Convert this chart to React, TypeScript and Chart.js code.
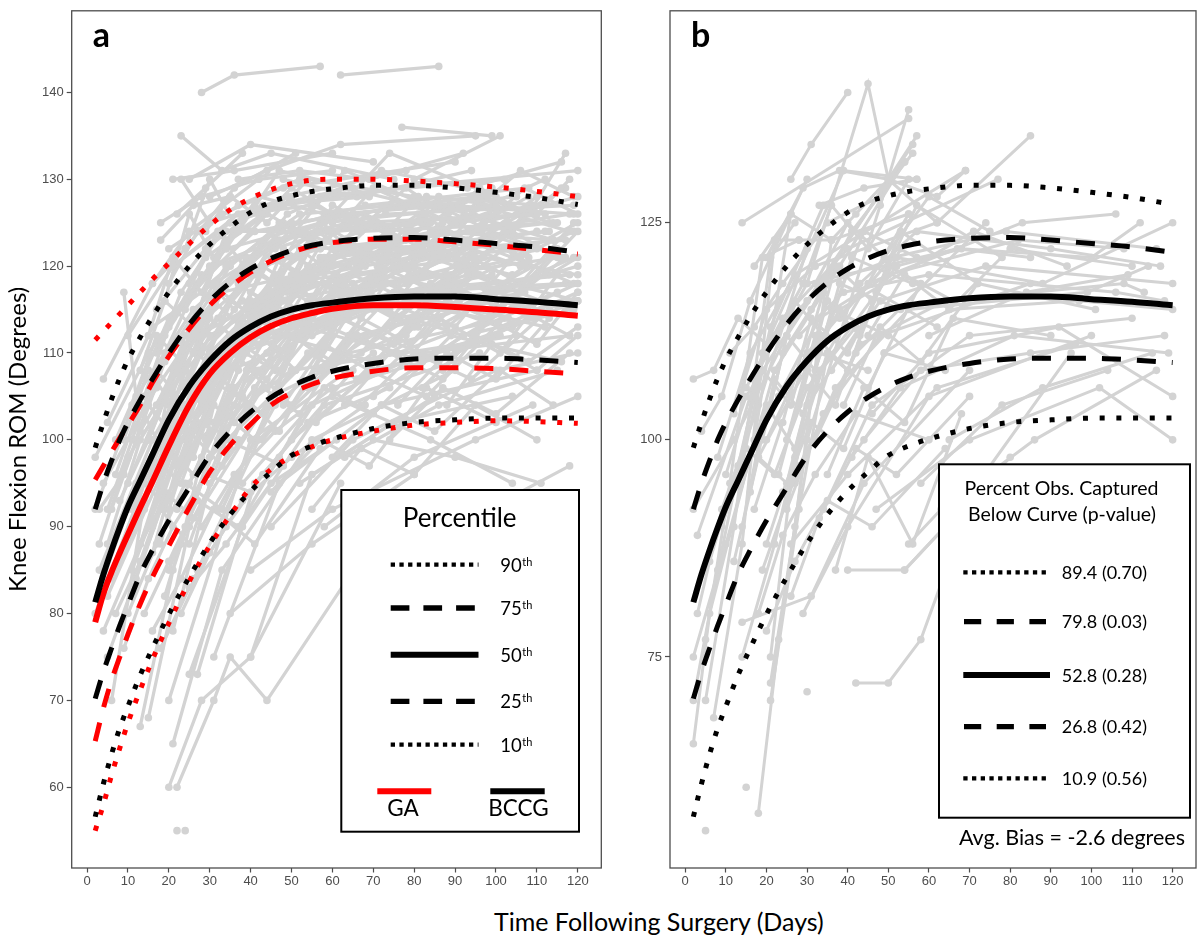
import { useEffect, useRef } from 'react';
import { Chart, registerables } from 'chart.js';

Chart.register(...registerables);

type Pt = [number, number];

// ---- percentile curves ----
const curveDays = [2, 4, 6, 8, 10, 13, 16, 20, 25, 30, 35, 40, 45, 50, 55, 60, 70, 80, 90, 100, 110, 120];

const bccg90 = [99.1, 102.0, 104.7, 107.1, 109.2, 111.8, 114.2, 117.0, 120.0, 122.5, 124.5, 126.2, 127.4, 128.1, 128.6, 128.9, 129.3, 129.3, 129.0, 128.5, 127.9, 127.1];
const bccg75 = [92.0, 95.0, 97.6, 100.0, 102.0, 104.6, 107.0, 110.0, 113.3, 116.0, 118.1, 119.7, 120.9, 121.8, 122.4, 122.8, 123.2, 123.3, 123.0, 122.6, 122.2, 121.6];
const bccg50 = [81.3, 84.5, 87.3, 89.9, 92.3, 95.3, 98.3, 102.3, 106.2, 109.1, 111.4, 113.0, 114.2, 115.0, 115.5, 115.8, 116.3, 116.5, 116.5, 116.2, 115.9, 115.5];
const bccg25 = [70.2, 73.3, 76.0, 78.6, 81.0, 84.5, 87.3, 90.7, 94.5, 98.2, 101.0, 103.2, 104.9, 106.2, 107.2, 107.9, 108.8, 109.3, 109.4, 109.4, 109.2, 108.9];
const bccg10 = [56.6, 60.4, 63.8, 66.8, 69.3, 72.9, 76.0, 79.9, 84.2, 88.1, 91.4, 94.1, 96.3, 98.2, 99.3, 100.1, 101.3, 102.0, 102.3, 102.5, 102.5, 102.5];

const ga90 = [111.5, 112.5, 113.5, 114.5, 115.5, 117.0, 118.5, 120.3, 122.6, 124.7, 126.5, 127.8, 128.8, 129.5, 129.9, 130.0, 130.0, 129.8, 129.5, 129.1, 128.6, 128.0];
const ga75 = [95.4, 97.0, 98.6, 100.2, 101.7, 104.0, 106.6, 109.6, 112.8, 115.5, 117.6, 119.3, 120.6, 121.6, 122.3, 122.7, 123.1, 123.1, 122.8, 122.4, 121.9, 121.4];
const ga50 = [79.0, 82.3, 84.8, 87.0, 89.1, 92.2, 95.2, 99.3, 104.0, 107.6, 110.0, 111.8, 113.1, 114.0, 114.6, 115.1, 115.5, 115.5, 115.3, 115.0, 114.7, 114.3];
const ga25 = [65.3, 69.1, 72.3, 75.0, 77.6, 81.1, 84.2, 87.8, 92.2, 96.3, 99.4, 101.8, 104.0, 105.4, 106.4, 107.1, 107.9, 108.3, 108.3, 108.2, 107.9, 107.6];
const ga10 = [55.0, 58.0, 61.4, 64.5, 67.4, 71.2, 74.7, 78.9, 83.7, 87.8, 91.3, 94.5, 96.6, 98.1, 99.2, 100.0, 101.0, 101.7, 102.0, 102.2, 102.1, 101.9];

// ---- axes ----
const xTicks = [0, 10, 20, 30, 40, 50, 60, 70, 80, 90, 100, 110, 120];
const yTicksA = [60, 70, 80, 90, 100, 110, 120, 130, 140];
const yTicksB = [75, 100, 125];

// ---- legend texts ----
const percentileRows = ['90', '75', '50', '25', '10'];
const captureRows = ['89.4 (0.70)', '79.8 (0.03)', '52.8 (0.28)', '26.8 (0.42)', '10.9 (0.56)'];

// ---- patient trajectories, panel a (development set) ----
const trajA: Pt[][] = [
  [[2, 80], [14, 95], [28, 110], [45, 118], [90, 122]],
  [[3, 85], [16, 100], [30, 112], [60, 120], [110, 124]],
  [[2, 92], [12, 105], [26, 115], [50, 125], [95, 128]],
  [[4, 107], [16, 118], [25, 124], [42, 130]],
  [[5, 75], [18, 92], [35, 108], [70, 115]],
  [[3, 88], [10, 98], [24, 108], [40, 116], [85, 121]],
  [[6, 70], [14, 93], [35, 112], [80, 120]],
  [[9, 117], [13, 101], [27, 112], [55, 119]],
  [[2, 98], [15, 110], [30, 120], [58, 125], [100, 127]],
  [[7, 100], [20, 114], [34, 122], [65, 126]],
  [[5, 82], [20, 98], [38, 110], [75, 117], [118, 119]],
  [[8, 90], [22, 104], [40, 114], [90, 118]],
  [[4, 95], [17, 106], [33, 117], [70, 121]],
  [[10, 112], [21, 120], [37, 126], [64, 129]],
  [[4, 78], [13, 88], [27, 100], [50, 108], [105, 112]],
  [[6, 92], [19, 109], [36, 119], [57, 122], [114, 125]],
  [[11, 85], [23, 100], [42, 112], [80, 117]],
  [[5, 102], [16, 113], [31, 118], [48, 123]],
  [[12, 95], [26, 107], [44, 116], [88, 119]],
  [[13, 88], [22, 100], [36, 110], [62, 115], [120, 118]],
  [[20, 110], [34, 120], [52, 126], [98, 128]],
  [[21, 130], [36, 131], [60, 133]],
  [[23, 130], [30, 125], [50, 128]],
  [[25, 130], [40, 134], [70, 132]],
  [[23, 135], [33, 131], [45, 133], [75, 130]],
  [[15, 100], [25, 112], [39, 121], [66, 125], [110, 126]],
  [[16, 90], [27, 105], [45, 117], [78, 120]],
  [[18, 95], [30, 110], [47, 118], [95, 121]],
  [[19, 105], [31, 116], [46, 123], [73, 126], [119, 127]],
  [[20, 85], [32, 100], [50, 112], [84, 118]],
  [[21, 120], [35, 125], [55, 128], [102, 130]],
  [[22, 92], [36, 106], [54, 115], [99, 119]],
  [[17, 115], [29, 122], [43, 127], [69, 128]],
  [[24, 100], [37, 112], [53, 119], [88, 123]],
  [[20, 60], [28, 70], [40, 75], [62, 95]],
  [[22, 60], [31, 70], [35, 75], [44, 70], [75, 92]],
  [[22, 55]],
  [[24, 55]],
  [[21, 65], [33, 85], [55, 100], [90, 108]],
  [[13, 67], [21, 85], [30, 98], [60, 112]],
  [[15, 68], [25, 90], [45, 105], [80, 113]],
  [[20, 70], [40, 100], [70, 110]],
  [[25, 73], [38, 90], [58, 104], [96, 110]],
  [[27, 73], [41, 95], [65, 108]],
  [[31, 75], [47, 95], [72, 104], [110, 108]],
  [[40, 75], [55, 96], [85, 105]],
  [[21, 78], [30, 95], [50, 108]],
  [[13, 88], [24, 104], [42, 115], [68, 120]],
  [[5, 88], [13, 100], [26, 110]],
  [[18, 125], [28, 128], [42, 130], [60, 131]],
  [[20, 122], [33, 126], [48, 129], [90, 132]],
  [[16, 118], [24, 122], [36, 129], [51, 133]],
  [[19, 112], [27, 118], [41, 124], [63, 126], [105, 128]],
  [[23, 108], [38, 118], [56, 124], [100, 126]],
  [[24, 115], [34, 123], [49, 128], [78, 131]],
  [[26, 105], [40, 115], [60, 121], [112, 124]],
  [[25, 95], [39, 108], [57, 116], [91, 120]],
  [[27, 85], [42, 100], [64, 110], [103, 114]],
  [[28, 112], [43, 120], [67, 124], [115, 125]],
  [[30, 118], [45, 124], [68, 127], [108, 129]],
  [[29, 100], [44, 112], [70, 118], [116, 121]],
  [[32, 92], [46, 104], [66, 112], [100, 116]],
  [[30, 128], [44, 131], [62, 134], [95, 135]],
  [[35, 125], [48, 127], [75, 129], [120, 131]],
  [[33, 110], [50, 119], [74, 122], [113, 124]],
  [[36, 102], [52, 112], [79, 117], [117, 118]],
  [[38, 95], [55, 104], [82, 110], [118, 112]],
  [[34, 118], [47, 123], [71, 125]],
  [[37, 130], [52, 131], [69, 130], [92, 133]],
  [[40, 115], [58, 121], [87, 124]],
  [[42, 108], [59, 114], [93, 119]],
  [[45, 122], [61, 126], [89, 127], [119, 126]],
  [[50, 100], [70, 108], [101, 112]],
  [[55, 112], [78, 118], [106, 121]],
  [[60, 125], [83, 128], [111, 127]],
  [[48, 130], [66, 128], [94, 131]],
  [[65, 118], [90, 122], [117, 123]],
  [[70, 105], [92, 112], [119, 115]],
  [[52, 95], [75, 102], [104, 105]],
  [[58, 90], [80, 98], [109, 104]],
  [[63, 98], [86, 104], [115, 108]],
  [[75, 120], [97, 125], [120, 128]],
  [[80, 130], [101, 135]],
  [[77, 136], [99, 135]],
  [[68, 115], [88, 117], [112, 119]],
  [[85, 110], [104, 113], [120, 116]],
  [[90, 125], [110, 126], [118, 130]],
  [[62, 142], [86, 143]],
  [[28, 140], [36, 142], [57, 143]],
  [[60, 105], [84, 100], [104, 95]],
  [[70, 100], [90, 98], [111, 95]],
  [[75, 85], [98, 92], [118, 97]],
  [[40, 85], [60, 92], [95, 100], [120, 105]],
  [[35, 80], [55, 88], [80, 96]],
  [[45, 90], [65, 100], [100, 108], [120, 110]],
  [[18, 123], [26, 127], [35, 128]],
  [[22, 126], [29, 129], [38, 133]],
  [[20, 118], [27, 124], [37, 127], [52, 130]],
  [[17, 110], [23, 117], [33, 124]],
  [[14, 105], [20, 113], [29, 121], [44, 126]],
  [[12, 100], [19, 110], [26, 117], [40, 124]],
  [[10, 95], [17, 103], [24, 112], [35, 120]],
  [[8, 93], [15, 100], [22, 108]],
  [[16, 87], [22, 97], [29, 106], [41, 114]],
  [[19, 82], [26, 93], [34, 103], [49, 112]],
  [[23, 88], [30, 98], [39, 107], [58, 114]],
  [[26, 98], [33, 107], [45, 115]],
  [[31, 105], [39, 113], [54, 120], [77, 123]],
  [[35, 112], [46, 119], [61, 124], [84, 125]],
  [[39, 120], [49, 126], [63, 129], [81, 127]],
  [[43, 100], [57, 108], [76, 114], [107, 117]],
  [[46, 112], [60, 117], [80, 121], [110, 122]],
  [[50, 118], [64, 122], [85, 124], [114, 123]],
  [[54, 106], [68, 112], [91, 116], [120, 120]],
  [[57, 128], [72, 131], [93, 129], [116, 132]],
  [[14, 92], [21, 108], [28, 104], [40, 117], [56, 113], [84, 122]],
  [[16, 96], [23, 104], [31, 116], [42, 111], [60, 122], [92, 118]],
  [[18, 88], [25, 101], [33, 97], [47, 112], [70, 109], [105, 118]],
  [[20, 100], [27, 110], [35, 106], [49, 120], [65, 116], [98, 123]],
  [[22, 96], [29, 102], [38, 114], [51, 108], [72, 119], [111, 115]],
  [[24, 90], [31, 104], [41, 100], [53, 113], [76, 110], [115, 117]],
  [[19, 92], [26, 99], [34, 111], [44, 106], [63, 117], [97, 114]],
  [[17, 104], [24, 111], [32, 108], [43, 120], [59, 115], [87, 125]],
  [[21, 114], [28, 119], [36, 115], [48, 125], [67, 121], [103, 127]],
  [[25, 118], [32, 124], [40, 119], [55, 127], [78, 123], [118, 126]],
  [[27, 103], [35, 110], [44, 107], [58, 118], [81, 113], [119, 121]],
  [[30, 96], [38, 105], [47, 101], [62, 114], [86, 109], [117, 116]],
  [[33, 100], [41, 108], [50, 104], [66, 116], [92, 112], [120, 118]],
  [[36, 104], [45, 114], [56, 110], [73, 121], [99, 117]],
  [[39, 110], [48, 116], [59, 113], [77, 122], [104, 119]],
  [[42, 116], [52, 122], [63, 118], [82, 126], [109, 122]],
  [[44, 104], [54, 110], [66, 107], [85, 116], [112, 113]],
  [[47, 98], [58, 106], [70, 103], [89, 112], [116, 109]],
  [[51, 108], [62, 114], [75, 111], [95, 119], [120, 116]],
  [[53, 114], [65, 119], [79, 116], [97, 123]],
  [[56, 102], [69, 108], [83, 105], [102, 114]],
  [[61, 110], [73, 116], [88, 113], [107, 120]],
  [[64, 120], [76, 125], [90, 121], [110, 128]],
  [[67, 104], [80, 110], [94, 107], [113, 115]],
  [[71, 112], [84, 117], [98, 114], [117, 121]],
  [[74, 100], [87, 106], [100, 103], [118, 110]],
  [[79, 116], [92, 120], [106, 117], [120, 124]],
  [[82, 106], [95, 112], [108, 109], [120, 113]],
  [[12, 84], [18, 92], [25, 88], [34, 100], [48, 97]],
  [[10, 80], [17, 88], [24, 95], [33, 92], [45, 104]],
  [[14, 80], [20, 86], [27, 93], [37, 90], [52, 102]],
  [[16, 78], [23, 84], [31, 92], [41, 88], [57, 99]],
  [[18, 76], [25, 83], [34, 88], [45, 95], [61, 100]],
  [[23, 80], [30, 87], [38, 93], [50, 98], [68, 104]],
  [[26, 84], [34, 90], [43, 96], [54, 102], [74, 106]],
  [[28, 90], [36, 96], [46, 101], [60, 106], [90, 110]],
  [[6, 84], [12, 90], [18, 100], [26, 96], [37, 108]],
  [[3, 92], [9, 96], [15, 104], [22, 100], [31, 112]],
  [[7, 96], [13, 104], [19, 98], [27, 110], [38, 116]],
  [[9, 100], [15, 108], [21, 104], [29, 114], [41, 119]],
  [[11, 104], [17, 112], [23, 109], [31, 120], [46, 122]],
  [[13, 108], [19, 116], [26, 113], [34, 124], [50, 124]],
  [[15, 112], [21, 121], [28, 117], [38, 126], [55, 127]],
  [[19, 116], [25, 126], [31, 121], [42, 128], [58, 126]],
  [[24, 122], [30, 130], [37, 124], [47, 131], [65, 129]],
  [[29, 124], [35, 128], [44, 125], [54, 130], [80, 128]],
  [[34, 122], [41, 127], [51, 124], [63, 131], [88, 126]],
  [[40, 124], [50, 129], [60, 126], [74, 133], [100, 128]],
  [[49, 116], [59, 124], [71, 120], [86, 128], [112, 126]],
  [[58, 118], [70, 123], [82, 119], [96, 127], [118, 124]],
  [[66, 124], [78, 129], [91, 125], [106, 131], [119, 128]],
  [[73, 108], [86, 114], [101, 110], [115, 119]],
  [[88, 104], [99, 111], [110, 108], [120, 112]],
  [[91, 118], [102, 122], [113, 119], [120, 121]],
  [[84, 124], [96, 129], [108, 126], [117, 133]],
  [[55, 92], [67, 99], [80, 96], [95, 104], [110, 100]],
  [[60, 98], [72, 104], [85, 101], [101, 108], [114, 104]],
  [[45, 94], [57, 100], [69, 97], [83, 106], [100, 102]],
  [[20, 104], [26, 112], [33, 109], [42, 119], [54, 116], [70, 123], [95, 120]],
  [[22, 100], [28, 108], [35, 116], [45, 113], [57, 121], [75, 118], [102, 124]],
  [[24, 106], [30, 114], [38, 111], [48, 122], [61, 118], [80, 125], [108, 121]],
  [[26, 110], [33, 117], [41, 114], [52, 124], [66, 120], [86, 127], [114, 123]],
  [[28, 98], [35, 106], [43, 103], [54, 114], [69, 111], [91, 118], [118, 115]],
  [[31, 102], [38, 111], [47, 108], [59, 118], [75, 114], [97, 121], [120, 119]],
  [[34, 108], [42, 116], [51, 113], [63, 123], [80, 119], [103, 125]],
  [[37, 114], [45, 121], [55, 118], [68, 126], [85, 122], [108, 128]],
  [[41, 106], [50, 112], [60, 109], [73, 118], [90, 115], [113, 121]],
  [[44, 110], [53, 117], [64, 114], [78, 122], [96, 119], [119, 124]],
  [[48, 104], [58, 111], [69, 108], [83, 116], [101, 113], [120, 117]],
  [[52, 112], [62, 118], [74, 115], [88, 123], [106, 120]],
  [[57, 108], [67, 114], [79, 111], [94, 119], [111, 116]],
  [[62, 114], [72, 120], [85, 117], [99, 124], [116, 121]],
  [[67, 110], [78, 116], [90, 113], [104, 121], [119, 118]],
  [[72, 118], [83, 123], [95, 120], [109, 127]],
  [[78, 112], [89, 118], [101, 115], [115, 122]],
  [[83, 116], [94, 121], [106, 118], [119, 125]],
  [[87, 108], [98, 114], [110, 111], [120, 117]],
  [[93, 120], [104, 124], [115, 121]],
  [[18, 100], [24, 108], [30, 104], [38, 113], [49, 110]],
  [[15, 96], [21, 105], [27, 101], [35, 111], [46, 108]],
  [[11, 92], [17, 100], [23, 97], [30, 107], [40, 104]],
  [[8, 86], [14, 95], [20, 92], [27, 102], [37, 100]],
  [[5, 92], [11, 100], [17, 108], [24, 104], [33, 114]],
  [[4, 84], [10, 92], [16, 98], [23, 95], [31, 105]],
  [[7, 80], [13, 86], [19, 94], [26, 91], [35, 99]],
  [[9, 76], [15, 84], [21, 90], [29, 96], [40, 94]],
  [[30, 110], [37, 118], [46, 115], [57, 125], [71, 121], [94, 128]],
  [[32, 114], [40, 120], [49, 117], [60, 127], [76, 123], [99, 129]],
  [[35, 100], [43, 106], [52, 103], [64, 112], [82, 109], [106, 116]],
  [[38, 120], [47, 125], [57, 122], [70, 129], [89, 125], [112, 130]],
  [[46, 118], [56, 124], [67, 121], [81, 128], [99, 124], [117, 129]],
  [[50, 112], [61, 119], [73, 116], [87, 124], [104, 121], [120, 125]],
  [[55, 106], [66, 112], [78, 109], [92, 117], [109, 114]],
  [[59, 120], [70, 125], [82, 122], [97, 128], [113, 125]],
  [[63, 104], [74, 110], [87, 107], [102, 116], [118, 112]],
  [[69, 122], [81, 126], [93, 123], [107, 129], [120, 126]],
  [[76, 104], [88, 110], [100, 107], [113, 114]],
  [[80, 122], [91, 127], [103, 124], [116, 129]],
];

// ---- patient trajectories, panel b (validation set) ----
const trajB: Pt[][] = [
  [[26, 130], [31, 134], [40, 140]],
  [[30, 118], [45, 141], [50, 130], [62, 128], [69, 131]],
  [[14, 125], [55, 137]],
  [[48, 127], [55, 138]],
  [[2, 107], [7, 108], [13, 114], [20, 111], [38, 120]],
  [[2, 92], [12, 100], [25, 112], [57, 135]],
  [[3, 89], [15, 105], [30, 116], [56, 134]],
  [[2, 75], [10, 88], [22, 108], [54, 132]],
  [[2, 70], [8, 85], [19, 110], [39, 131], [57, 130]],
  [[2, 65], [6, 80], [17, 100], [26, 126]],
  [[5, 55]],
  [[5, 70], [12, 90], [21, 121], [27, 125]],
  [[7, 68], [14, 88], [22, 123]],
  [[5, 77], [11, 95], [19, 121], [28, 123]],
  [[15, 60]],
  [[18, 57], [23, 77], [30, 100], [50, 130], [62, 125]],
  [[21, 72], [27, 90], [36, 123]],
  [[21, 70], [28, 92], [35, 110], [55, 126]],
  [[21, 75], [26, 95], [33, 108], [52, 120]],
  [[14, 75], [22, 88], [30, 104], [46, 115]],
  [[30, 71]],
  [[42, 72], [50, 72], [58, 77], [72, 95], [95, 110]],
  [[14, 79], [31, 82], [44, 95], [70, 108]],
  [[29, 80], [40, 90], [60, 105], [100, 112]],
  [[37, 85], [45, 98], [56, 88], [68, 103]],
  [[40, 85], [54, 85], [80, 98]],
  [[25, 92], [34, 103], [48, 112], [85, 118]],
  [[19, 85], [28, 97], [42, 110], [74, 125]],
  [[17, 120], [26, 126], [36, 123]],
  [[20, 121], [29, 129], [38, 131], [50, 130]],
  [[22, 123], [28, 123], [36, 123], [55, 126]],
  [[10, 96], [18, 108], [30, 118], [67, 122], [85, 121]],
  [[12, 103], [20, 115], [32, 120], [62, 125], [85, 135]],
  [[8, 98], [16, 110], [27, 119], [69, 131]],
  [[15, 106], [24, 114], [40, 122], [77, 130]],
  [[18, 98], [26, 105], [38, 115], [71, 124], [94, 120]],
  [[20, 100], [30, 110], [45, 118], [83, 125], [106, 126]],
  [[23, 105], [33, 114], [50, 119], [82, 123], [108, 122]],
  [[24, 110], [35, 118], [52, 121], [88, 118], [120, 125]],
  [[27, 95], [37, 106], [55, 115], [99, 117], [114, 120]],
  [[28, 112], [39, 117], [60, 119], [106, 117], [118, 116]],
  [[32, 100], [43, 111], [64, 116], [108, 118], [113, 117]],
  [[34, 92], [46, 104], [70, 112], [110, 114]],
  [[36, 108], [48, 116], [74, 120], [120, 118]],
  [[38, 114], [51, 121], [79, 124], [116, 122]],
  [[41, 98], [53, 106], [81, 112], [119, 110]],
  [[43, 118], [57, 124], [90, 122], [117, 120]],
  [[46, 103], [60, 110], [92, 113], [120, 105]],
  [[49, 110], [65, 115], [97, 116], [120, 115]],
  [[52, 120], [68, 122], [100, 121], [112, 125]],
  [[58, 95], [78, 104], [104, 108]],
  [[60, 112], [84, 117], [109, 119]],
  [[65, 100], [88, 106], [115, 110]],
  [[33, 127], [44, 129], [57, 130]],
  [[36, 123], [42, 126], [54, 132]],
  [[31, 115], [41, 124], [56, 133]],
  [[55, 88], [63, 92], [86, 100], [116, 108]],
  [[54, 85], [70, 93]],
  [[11, 110], [17, 113], [24, 118], [35, 125], [48, 128]],
  [[4, 101], [9, 105], [16, 116], [30, 130]],
  [[6, 86], [13, 97], [21, 113], [34, 127]],
  [[3, 80], [9, 92], [18, 104], [30, 122]],
  [[44, 100], [58, 108], [85, 110], [118, 112]],
  [[26, 88], [40, 96], [62, 106], [96, 111]],
  [[47, 92], [70, 100], [102, 106], [120, 100]],
  [[14, 90], [20, 104], [27, 99], [36, 115], [50, 112]],
  [[16, 94], [22, 107], [29, 103], [38, 118], [53, 115]],
  [[12, 86], [18, 98], [25, 95], [33, 110], [45, 108]],
  [[19, 100], [25, 112], [32, 108], [41, 121], [56, 118]],
  [[21, 104], [27, 116], [34, 112], [44, 124], [57, 121]],
  [[23, 96], [30, 108], [37, 104], [47, 117], [62, 113]],
  [[17, 92], [24, 102], [31, 114], [40, 110], [53, 122]],
  [[20, 88], [27, 98], [35, 110], [45, 106], [58, 118]],
  [[25, 100], [32, 112], [40, 108], [50, 120], [66, 116]],
  [[28, 104], [35, 116], [43, 112], [53, 124], [72, 118]],
  [[30, 108], [37, 120], [46, 116], [57, 127], [78, 121]],
  [[22, 112], [29, 118], [36, 127], [45, 122], [55, 130]],
  [[13, 95], [19, 108], [26, 104], [34, 117]],
  [[9, 90], [15, 99], [22, 96], [30, 106], [42, 113]],
  [[24, 94], [31, 102], [39, 99], [49, 110], [64, 108]],
  [[35, 96], [44, 106], [54, 102], [66, 114], [90, 112]],
  [[18, 80], [24, 89], [32, 96], [42, 103], [60, 100]],
  [[26, 82], [33, 91], [42, 99], [52, 96], [70, 105]],
  [[20, 78], [27, 86], [35, 93], [46, 90], [64, 99]],
  [[39, 104], [48, 113], [58, 109], [72, 118], [101, 115]],
  [[45, 112], [54, 119], [65, 115], [80, 122], [110, 120]],
  [[32, 118], [40, 125], [49, 121], [60, 128], [75, 124]],
];

const GREY = '#d3d3d3';
const AXIS = '#4d4d4d';
const RED = '#ff0000';

type Kind = 'solid' | 'dash' | 'dot';

function curveSet(vals: number[], color: string, kind: Kind) {
  return {
    data: curveDays.map((d, i) => ({ x: d, y: vals[i] })),
    borderColor: color,
    borderWidth: kind === 'solid' ? 6 : 5,
    borderDash: kind === 'dash' ? [19, 16] : kind === 'dot' ? [5, 11.7] : [],
    pointRadius: 0,
    cubicInterpolationMode: 'monotone' as const,
    fill: false,
    clip: 0,
  };
}

function greySet(pts: Pt[], width: number) {
  return {
    data: pts.map(([x, y]) => ({ x, y })),
    borderColor: GREY,
    borderWidth: width,
    pointRadius: 3.8,
    pointBackgroundColor: GREY,
    pointBorderWidth: 0,
    tension: 0,
    fill: false,
    clip: 0,
  };
}

function strokeSample(ctx: CanvasRenderingContext2D, x0: number, x1: number, y: number, kind: Kind, color: string) {
  ctx.save();
  ctx.strokeStyle = color;
  ctx.lineCap = 'butt';
  if (kind === 'solid') { ctx.lineWidth = 6; ctx.setLineDash([]); }
  if (kind === 'dash') { ctx.lineWidth = 5.3; ctx.setLineDash([18.7, 14]); }
  if (kind === 'dot') { ctx.lineWidth = 4.3; ctx.setLineDash([4.3, 4.4]); }
  ctx.beginPath();
  ctx.moveTo(x0, y);
  ctx.lineTo(x1, y);
  ctx.stroke();
  ctx.restore();
}

const rowKinds: Kind[] = ['dot', 'dash', 'solid', 'dash', 'dot'];

function drawLegendA(ctx: CanvasRenderingContext2D) {
  ctx.fillStyle = '#fff';
  ctx.fillRect(341.3, 490, 237.7, 341.7);
  ctx.strokeStyle = '#000';
  ctx.lineWidth = 2;
  ctx.setLineDash([]);
  ctx.strokeRect(341.3, 490, 237.7, 341.7);

  ctx.fillStyle = '#000';
  ctx.textAlign = 'center';
  ctx.textBaseline = 'alphabetic';
  ctx.font = '26px Lato';
  ctx.fillText('Percentile', 459.7, 526.7);

  const rowsY = [564.7, 608, 654.7, 701.3, 744.7];
  percentileRows.forEach((lab, i) => {
    const y = rowsY[i];
    strokeSample(ctx, 390.7, 478.5, y, rowKinds[i], '#000');
    ctx.textAlign = 'left';
    ctx.font = '18.5px Lato';
    ctx.fillText(lab, 500.3, y + 6.9);
    const w = ctx.measureText(lab).width;
    ctx.font = '11px Lato';
    ctx.fillText('th', 500.3 + w + 0.5, y + 1);
  });

  strokeSample(ctx, 377.3, 431.3, 791.3, 'solid', RED);
  strokeSample(ctx, 490.3, 544.7, 791.3, 'solid', '#000');
  ctx.textAlign = 'center';
  ctx.font = '22.5px Lato';
  ctx.fillText('GA', 403, 816.3);
  ctx.fillText('BCCG', 518.5, 816.3);
}

function drawLegendB(ctx: CanvasRenderingContext2D) {
  const ox = -610;
  ctx.fillStyle = '#fff';
  ctx.fillRect(939 + ox, 464.3, 251, 353.4);
  ctx.strokeStyle = '#000';
  ctx.lineWidth = 2;
  ctx.setLineDash([]);
  ctx.strokeRect(939 + ox, 464.3, 251, 353.4);

  ctx.fillStyle = '#000';
  ctx.textAlign = 'center';
  ctx.textBaseline = 'alphabetic';
  ctx.font = '19.5px Lato';
  ctx.fillText('Percent Obs. Captured', 1061.5 + ox, 495);
  ctx.fillText('Below Curve (p-value)', 1062 + ox, 520.5);

  const rowsY = [572.3, 621.7, 675, 726.7, 778.3];
  captureRows.forEach((lab, i) => {
    const y = rowsY[i];
    const kind = rowKinds[i];
    const x1 = kind === 'solid' ? 1050 : 1046;
    if (kind === 'dash') {
      ctx.save();
      ctx.strokeStyle = '#000';
      ctx.lineWidth = 5.3;
      ctx.setLineDash([17.2, 15.5]);
      ctx.beginPath();
      ctx.moveTo(964 + ox, y);
      ctx.lineTo(x1 + ox, y);
      ctx.stroke();
      ctx.restore();
    } else {
      strokeSample(ctx, 963.3 + ox, x1 + ox, y, kind, '#000');
    }
    ctx.textAlign = 'left';
    ctx.font = '18px Lato';
    ctx.fillText(lab, 1061.7 + ox, y + 6.5);
  });

  ctx.textAlign = 'right';
  ctx.font = '21.5px Lato';
  ctx.fillText('Avg. Bias = -2.6 degrees', 1185 + ox, 845);
}

function decorPlugin(label: string, labelX: number, legend: (ctx: CanvasRenderingContext2D) => void) {
  return {
    id: 'decor-' + label,
    afterDraw(chart: Chart) {
      const { ctx, chartArea: a } = chart;
      ctx.save();
      legend(ctx);
      ctx.setLineDash([]);
      ctx.strokeStyle = AXIS;
      ctx.lineWidth = 1.3;
      ctx.strokeRect(a.left, a.top, a.right - a.left, a.bottom - a.top);
      ctx.fillStyle = '#000';
      ctx.textAlign = 'left';
      ctx.textBaseline = 'alphabetic';
      ctx.font = 'bold 34px Lato';
      ctx.fillText(label, labelX, 46.7);
      ctx.restore();
    },
  };
}

interface PanelProps {
  left: number;
  width: number;
  axisWidth: number;
  padRight: number;
  yTicks: number[];
  yTitle?: string;
  datasets: any[];
  label: string;
  labelX: number;
  legend: (ctx: CanvasRenderingContext2D) => void;
}

function Panel({ left, width, axisWidth, padRight, yTicks, yTitle, datasets, label, labelX, legend }: PanelProps) {
  const canvasRef = useRef<HTMLCanvasElement>(null);
  const chartRef = useRef<Chart | null>(null);

  useEffect(() => {
    if (!canvasRef.current) return;
    if (chartRef.current) chartRef.current.destroy();
    const ctx = canvasRef.current.getContext('2d');
    if (!ctx) return;

    const tickFont = { family: 'Liberation Sans', size: 13 };

    chartRef.current = new Chart(ctx, {
      type: 'line',
      data: { datasets },
      options: {
        responsive: false,
        animation: false,
        events: [],
        layout: { padding: { left: 0, right: padRight, top: 1, bottom: 0 } },
        plugins: { legend: { display: false }, tooltip: { enabled: false } },
        scales: {
          x: {
            type: 'linear',
            min: -3.75,
            max: 125.75,
            afterBuildTicks: (s: any) => { s.ticks = xTicks.map((v) => ({ value: v })); },
            afterFit: (s: any) => { s.height = 32; },
            border: { display: false },
            grid: { drawOnChartArea: false, drawTicks: true, tickLength: 4.5, tickColor: AXIS, tickWidth: 1.2 },
            ticks: { autoSkip: false, maxRotation: 0, padding: 1.5, color: AXIS, font: tickFont },
          },
          y: {
            type: 'linear',
            min: 50.7,
            max: 149.4,
            afterBuildTicks: (s: any) => { s.ticks = yTicks.map((v) => ({ value: v })); },
            afterFit: (s: any) => { s.width = axisWidth; },
            border: { display: false },
            grid: { drawOnChartArea: false, drawTicks: true, tickLength: 5, tickColor: AXIS, tickWidth: 1.2 },
            ticks: { autoSkip: false, padding: 3, color: AXIS, font: tickFont },
            title: yTitle
              ? { display: true, text: yTitle, color: '#000', font: { family: 'Lato', size: 24 }, padding: { top: 4, bottom: 0 } }
              : { display: false },
          },
        },
      },
      plugins: [decorPlugin(label, labelX, legend)],
    } as any);

    return () => {
      if (chartRef.current) {
        chartRef.current.destroy();
        chartRef.current = null;
      }
    };
  }, []);

  return (
    <canvas
      ref={canvasRef}
      width={width}
      height={900}
      style={{ position: 'absolute', left, top: 0, width, height: 900 }}
    />
  );
}

export default function App() {
  const datasetsA = [
    curveSet(bccg90, '#000', 'dot'),
    curveSet(bccg75, '#000', 'dash'),
    curveSet(bccg50, '#000', 'solid'),
    curveSet(bccg25, '#000', 'dash'),
    curveSet(bccg10, '#000', 'dot'),
    curveSet(ga90, RED, 'dot'),
    curveSet(ga75, RED, 'dash'),
    curveSet(ga50, RED, 'solid'),
    curveSet(ga25, RED, 'dash'),
    curveSet(ga10, RED, 'dot'),
    ...trajA.map((t) => greySet(t, 3.3)),
  ];
  const datasetsB = [
    curveSet(bccg90, '#000', 'dot'),
    curveSet(bccg75, '#000', 'dash'),
    curveSet(bccg50, '#000', 'solid'),
    curveSet(bccg25, '#000', 'dash'),
    curveSet(bccg10, '#000', 'dot'),
    ...trajB.map((t) => greySet(t, 3)),
  ];

  return (
    <div style={{ position: 'absolute', left: 0, top: 0, width: 1200, height: 937, background: '#fff', overflow: 'hidden' }}>
      <Panel
        left={0}
        width={610}
        axisWidth={71.7}
        padRight={8.7}
        yTicks={yTicksA}
        yTitle="Knee Flexion ROM (Degrees)"
        datasets={datasetsA}
        label="a"
        labelX={92.7}
        legend={drawLegendA}
      />
      <Panel
        left={610}
        width={590}
        axisWidth={60}
        padRight={1}
        yTicks={yTicksB}
        datasets={datasetsB}
        label="b"
        labelX={81}
        legend={drawLegendB}
      />
      <div
        style={{
          position: 'absolute',
          left: 494,
          top: 906,
          font: '25px Lato',
          lineHeight: '30px',
          whiteSpace: 'nowrap',
          color: '#000',
        }}
      >
        Time Following Surgery (Days)
      </div>
    </div>
  );
}
